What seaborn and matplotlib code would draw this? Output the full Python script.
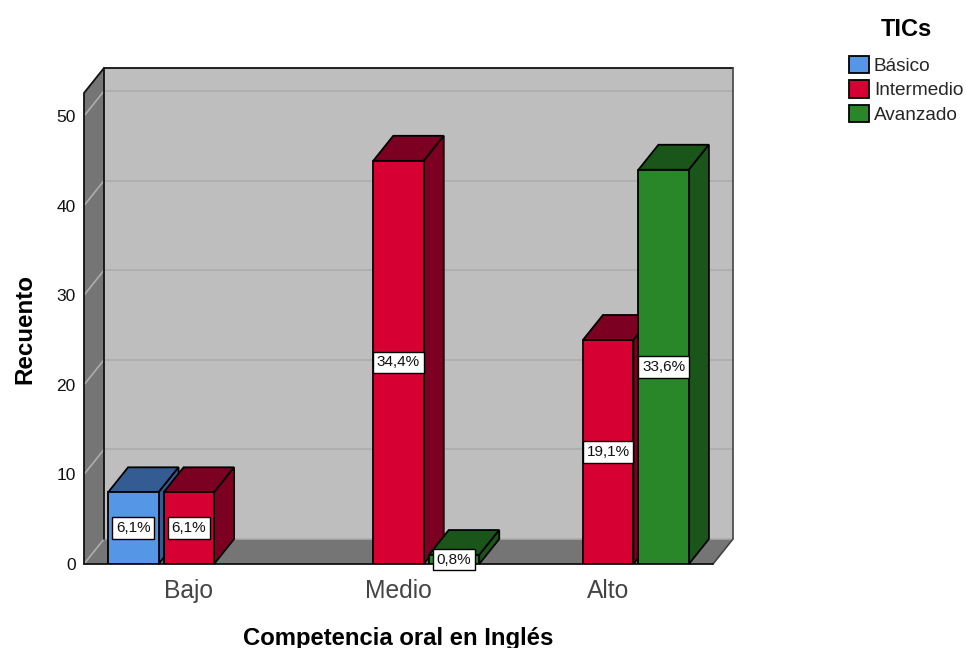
import matplotlib
matplotlib.use('Agg')
import matplotlib.pyplot as plt
import numpy as np
import pandas as pd
import seaborn as sns
from matplotlib.patches import Polygon

niveles = ['Bajo', 'Medio', 'Alto']
tics = ['Básico', 'Intermedio', 'Avanzado']
competencia = ['Bajo', 'Bajo', 'Medio', 'Medio', 'Alto', 'Alto']
grupo = ['Básico', 'Intermedio', 'Intermedio', 'Avanzado', 'Intermedio', 'Avanzado']
recuento = [8, 8, 45, 1, 25, 44]
porcentaje = ['6,1%', '6,1%', '34,4%', '0,8%', '19,1%', '33,6%']
colores = ['#5596E6', '#D60032', '#29872A']
oscuros = ['#345C93', '#7C0022', '#1A551A']
yticks = [0, 10, 20, 30, 40, 50]

W, H = 966, 648
sns.set_theme(style='white')
plt.rcParams['font.family'] = ['Liberation Sans', 'DejaVu Sans']

fig = plt.figure(figsize=(W / 100, H / 100), dpi=100)
ax = fig.add_axes([84 / W, (H - 564) / H, 629 / W, 471 / H])

df = pd.DataFrame({'competencia': competencia, 'TICs': grupo, 'recuento': recuento})
sns.barplot(data=df, x='competencia', y='recuento', hue='TICs', order=niveles,
            hue_order=tics, palette=colores, width=0.794, gap=0.09,
            edgecolor='black', linewidth=1.3, saturation=1, ax=ax)

ax.set_xlim(-0.5, 2.5)
ax.set_ylim(0, 471 / 8.96)
# profundidad del falso 3D: 20 px a la derecha, 25 px hacia arriba
dx = 20 / (629 / 3)
dy = 25 / 8.96
x0, x1 = ax.get_xlim()
top = ax.get_ylim()[1]

# paredes
ax.add_patch(Polygon([(x0 + dx, dy), (x1 + dx, dy), (x1 + dx, top + dy), (x0 + dx, top + dy)],
                     fc='#BEBEBE', ec='none', clip_on=False, zorder=0.1))
ax.add_patch(Polygon([(x0, 0), (x0 + dx, dy), (x0 + dx, top + dy), (x0, top)],
                     fc='#757575', ec='none', clip_on=False, zorder=0.2))
ax.add_patch(Polygon([(x0, 0), (x1, 0), (x1 + dx, dy), (x0 + dx, dy)],
                     fc='#757575', ec='none', clip_on=False, zorder=0.3))

# rejilla sobre las paredes
for t in yticks:
    ax.plot([x0 + dx, x1 + dx], [t + dy, t + dy], color='#ADADAD', lw=1.2, clip_on=False, zorder=0.4)
    ax.plot([x0, x0 + dx], [t, t + dy], color='#ADADAD', lw=1.2, clip_on=False, zorder=0.4)

# bordes
borde = dict(color='#111111', lw=1.3, clip_on=False, zorder=0.5)
ax.plot([x0, x0, x0 + dx, x1 + dx], [0, top, top + dy, top + dy], **borde)
ax.plot([x0 + dx, x0 + dx], [dy, top + dy], **borde)
ax.plot([x1 + dx, x1 + dx, x1], [top + dy, dy, 0], color='#444444', lw=1.2, clip_on=False, zorder=0.5)
ax.plot([x0, x1], [0, 0], **borde)

# caras superior y lateral de cada barra, de izquierda a derecha
barras = []
for k, cont in enumerate(ax.containers):
    for p in cont:
        if np.isfinite(p.get_height()) and p.get_height() > 0:
            barras.append((p, k))
barras.sort(key=lambda b: b[0].get_x())
for i, (p, k) in enumerate(barras):
    izq, alto = p.get_x(), p.get_height()
    der = izq + p.get_width()
    z = 2 + i
    p.set_zorder(z + 0.2)
    lados = dict(fc=oscuros[k], ec='black', lw=1.3, clip_on=False, zorder=z)
    ax.add_patch(Polygon([(izq, alto), (der, alto), (der + dx, alto + dy), (izq + dx, alto + dy)], **lados))
    ax.add_patch(Polygon([(der, 0), (der + dx, dy), (der + dx, alto + dy), (der, alto)], **lados))

# etiquetas de porcentaje en el centro de cada barra
for c, g, r, txt in zip(competencia, grupo, recuento, porcentaje):
    xpos = niveles.index(c) + (tics.index(g) - 1) * 0.794 / 3
    ax.text(xpos, r / 2, txt, ha='center', va='center', fontsize=11, color='#111111', zorder=30,
            clip_on=False, bbox=dict(boxstyle='square,pad=0.24', fc='white', ec='black', lw=1))

ax.set_yticks(yticks)
ax.set_yticklabels([str(t) for t in yticks], fontsize=12.5, color='#111111')
ax.tick_params(axis='y', length=0, pad=6)
ax.tick_params(axis='x', length=0, pad=10.5, labelsize=17.7, labelcolor='#444444')
ax.set_xlabel('Competencia oral en Inglés', fontsize=17.2, fontweight='bold', color='black', labelpad=17.5)
ax.set_ylabel('Recuento', fontsize=17.4, fontweight='bold', color='black', labelpad=14.5)
sns.despine(ax=ax, left=True, bottom=True)
ax.patch.set_visible(False)

sns.move_legend(ax, 'upper left', bbox_to_anchor=(834 / W, (H - 3) / H), bbox_transform=fig.transFigure,
                title='TICs', frameon=False, fontsize=13.7, handlelength=1.02, handleheight=1.02,
                handletextpad=0.28, labelspacing=0.28, borderpad=0.3,
                title_fontproperties={'weight': 'bold', 'size': 17})
ax.get_legend()._legend_box.sep = 10.5
ax.get_legend().get_title().set_color('black')

fig.savefig('out.png', dpi=100)
